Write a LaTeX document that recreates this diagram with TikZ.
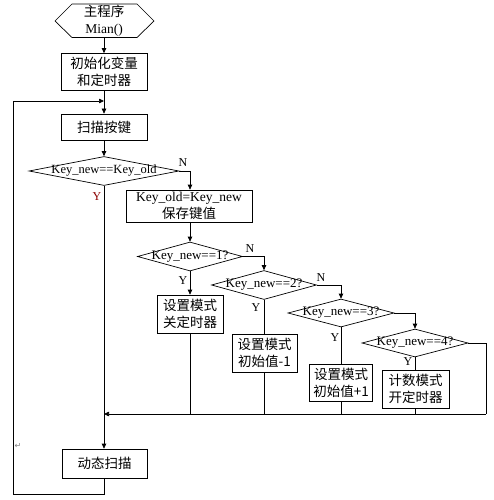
\documentclass[tikz,border=0pt]{standalone}
\usepackage{fontspec}
\setmainfont{Liberation Serif}
\newfontfamily\cjk{Noto Sans CJK SC}
\newfontfamily\dejavu{DejaVu Sans}
\usetikzlibrary{shapes.geometric,arrows.meta,calc}
\begin{document}
\begin{tikzpicture}[x=1pt,y=-1pt, line width=0.7pt,
  box/.style={draw, rectangle, inner sep=0pt, align=center,
    font=\cjk\fontsize{13.5}{17}\selectfont},
  dia/.style={draw, diamond, inner sep=0pt, minimum width=105pt, minimum height=29pt},
  dtxt/.style={font=\fontsize{13}{14}\selectfont, inner sep=0pt},
  lbl/.style={font=\fontsize{12}{14}\selectfont, inner sep=0pt},
  arr/.style={-{Triangle[length=5pt,width=4.5pt]}},
]
\useasboundingbox (0,0) rectangle (493,500);

% start hexagon
\draw (55,21) -- (72,4) -- (137,4) -- (154,21) -- (137,37.5) -- (72,37.5) -- cycle;
\node[inner sep=0pt, align=center, font=\fontsize{13.5}{17}\selectfont] (start) at (104,21)
  {{\cjk 主程序}\\Mian()};
\coordinate (hexbot) at (104,37.5);

\node[box, minimum width=86pt, minimum height=37pt] (init) at (104,72) {初始化变量\\和定时器};
\node[box, minimum width=86pt, minimum height=26pt] (scan) at (104,127) {扫描按键};

\node[dia, minimum width=150pt] (d0) at (104,171) {};
\node[dtxt, font=\fontsize{12.5}{14}\selectfont] (t0) at (d0) {Key\_new==Key\_old};

\node[box, minimum width=126pt, minimum height=32pt] (save) at (189,206)
  {{\rmfamily Key\_old=Key\_new}\\保存键值};

\node[dia] (d1) at (190,256.5) {};
\node[dtxt] (t1) at (d1) {Key\_new==1?};
\node[dia] (d2) at (264,285) {};
\node[dtxt] (t2) at (d2) {Key\_new==2?};
\node[dia, minimum width=106pt, minimum height=28pt] (d3) at (341,313) {};
\node[dtxt] (t3) at (d3) {Key\_new==3?};
\node[dia, minimum width=106pt, minimum height=28pt] (d4) at (415,343) {};
\node[dtxt] (t4) at (d4) {Key\_new==4?};

\node[box, minimum width=66pt, minimum height=38pt] (b1) at (190,314) {设置模式\\关定时器};
\node[box, minimum width=65pt, minimum height=38pt] (b2) at (264.5,353) {设置模式\\初始值-1};
\node[box, minimum width=63pt, minimum height=37pt] (b3) at (341,382.5) {设置模式\\初始值+1};
\node[box, minimum width=67pt, minimum height=38pt] (b4) at (415.5,389) {计数模式\\开定时器};

\node[box, minimum width=85pt, minimum height=29pt] (dyn) at (104.5,463.5) {动态扫描};

% coordinates
\coordinate (loopin) at (104,101);
\coordinate (merge) at (104,414);
\coordinate (rt) at (486,414);
\coordinate (bl) at (13,494);
\coordinate (tl) at (13,101);

% connectors
\draw[arr] (hexbot) -- (init.north);
\draw[arr] (init.south) -- (scan.north);
\draw[arr] (scan.south) -- (d0.north);
\draw[arr] (d0.east) -| (save.north -| 190,0);
\draw[arr] (save.south -| 190,0) -- (d1.north);
\draw[arr] (d1.east) -| (d2.north);
\draw[arr] (d2.east) -| (d3.north);
\draw[arr] (d3.east) -| (d4.north);
\draw (d4.east) -| (rt);
\draw[arr] (d1.south) -- (b1.north);
\draw (d2.south) -- (b2.north -| d2.south);
\draw (d3.south) -- (b3.north -| d3.south);
\draw (d4.south) -- (b4.north -| d4.south);
\draw (b1.south) -- (b1.south |- merge);
\draw (b2.south -| d2.south) -- (d2.south |- merge);
\draw (b3.south -| d3.south) -- (d3.south |- merge);
\draw (b4.south -| d4.south) -- (d4.south |- merge);
\draw[arr] (rt) -- (merge);
\draw[arr] (d0.south) -- (dyn.north -| d0.south);
\draw[arr] (dyn.south -| d0.south) |- (bl) -- (tl) -- (loopin);

% labels
\node[lbl] (n0) at (183,163) {N};
\node[lbl, text=red!55!black] (y0) at (97,197) {Y};
\node[lbl] (n1) at (250,249) {N};
\node[lbl] (y1) at (183,281) {Y};
\node[lbl] (n2) at (321,278) {N};
\node[lbl] (y2) at (256,308) {Y};
\node[lbl] (y3) at (335,338) {Y};
\node[lbl] (y4) at (408,362) {Y};
\node[inner sep=0pt, text=gray, font=\dejavu\fontsize{8}{9}\selectfont] (pm) at (18,446) {↵};
\end{tikzpicture}
\end{document}
